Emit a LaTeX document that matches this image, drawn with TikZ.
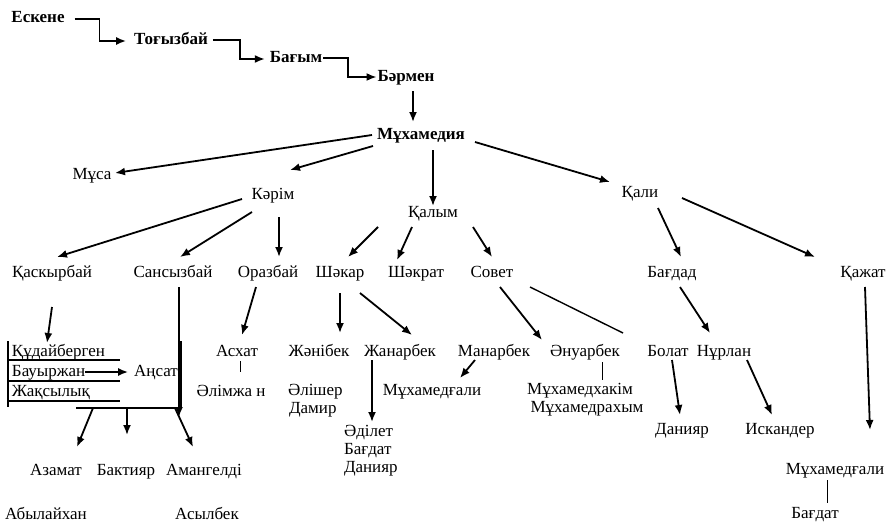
\documentclass[tikz,border=0pt]{standalone}
\usepackage{fontspec}
\setmainfont{Liberation Serif}
\usetikzlibrary{arrows.meta,calc}
\begin{document}
\begin{tikzpicture}[x=1pt,y=-1pt,
  every node/.style={inner sep=0pt, outer sep=0pt, text height=12pt, text depth=4pt, font=\fontsize{17}{17}\selectfont},
  bold/.style={font=\fontsize{17}{17}\selectfont\bfseries},
  arr/.style={line width=1.8pt, -{Latex[length=10pt,width=8pt]}},
  plain/.style={line width=1.4pt},
  thin/.style={line width=0.9pt},
  brk/.style={line width=1.1pt}]
\useasboundingbox (0,0) rectangle (889,522);
% bold chain
\node[bold] (esk) at (38,19) {Ескене};
\node[bold] (tog) at (171,40) {Тоғызбай};
\node[bold] (bag) at (296,58) {Бағым};
\node[bold] (bar) at (406,77) {Бәрмен};
\node[bold] (muh) at (421,135) {Мұхамедия};
% level 2
\node (musa) at (92,175) {Мұса};
\node (ker) at (273,195) {Кәрім};
\node (qal) at (433,213) {Қалым};
\node (qali) at (640,193) {Қали};
% level 3
\node (kask) at (52,273) {Қаскырбай};
\node (sans) at (173,273) {Сансызбай};
\node (oraz) at (268,273) {Оразбай};
\node (shak) at (340,273) {Шәкар};
\node (shakr) at (416,273) {Шәкрат};
\node (sov) at (492,273) {Совет};
\node (bagd) at (672,273) {Бағдад};
\node (qaj) at (863,273) {Қажат};
% level 4
\node[anchor=west] (kud) at (12,352) {Құдайберген};
\node[anchor=west] (baur) at (12,372) {Бауыржан};
\node[anchor=west] (zhaq) at (12,392) {Жақсылық};
\node (ansat) at (156,372) {Аңсат};
\node (asx) at (237,352) {Асхат};
\node (alim) at (231,392) {Әлімжа н};
\node (zhan) at (319,352) {Жәнібек};
\node (zhanar) at (400,352) {Жанарбек};
\node (man) at (494,352) {Манарбек};
\node (anuar) at (585,352) {Әнуарбек};
\node (bol) at (668,352) {Болат};
\node (nur) at (724,352) {Нұрлан};
% level 5
\node[anchor=west] (alish) at (288,391) {Әлішер};
\node[anchor=west] (damir) at (289,409) {Дамир};
\node (muhg1) at (432,391) {Мұхамедғали};
\node (muhx) at (580,390) {Мұхамедхакім};
\node (muhr) at (587,408) {Мұхамедрахым};
\node[anchor=west] (adil) at (344,432) {Әділет};
\node[anchor=west] (bagdat1) at (344,450) {Бағдат};
\node[anchor=west] (dan2) at (344,468) {Данияр};
\node (dan1) at (682,430) {Данияр};
\node (isk) at (780,430) {Искандер};
\node (muhg2) at (835,470) {Мұхамедғали};
\node (bagdat2) at (815,514) {Бағдат};
\node (azam) at (56,471) {Азамат};
\node (bakt) at (126,471) {Бактияр};
\node (amang) at (204,471) {Амангелді};
\node (abyl) at (46,515) {Абылайхан};
\node (asyl) at (207,515) {Асылбек};
% chain connectors
\draw[arr] ($(esk.east)+(10,0)$) -- ++(25,0) |- ($(tog.west)+(-8,1)$);
\draw[arr] ($(tog.east)+(5,0)$) -- ++(27,0) |- ($(bag.west)+(-5,1)$);
\draw[arr] ($(bag.east)+(1,0)$) -- ++(25,0) |- ($(bar.west)+(-1,0)$);
\draw[arr] ($(bar.south)+(7,6)$) -- ($(muh.north)+(-8,-5)$);
% from Мұхамедия
\draw[arr] ($(muh)+(-49,0)$) -- ($(musa)+(23,-2)$);
\draw[arr] ($(muh)+(-48,11)$) -- ($(ker)+(17,-25)$);
\draw[arr] ($(muh)+(12,15)$) -- ($(qal)+(0,-7)$);
\draw[arr] ($(muh)+(54,7)$) -- ($(qali)+(-30,-11)$);
% from Кәрім
\draw[arr] ($(ker)+(-31,4)$) -- ($(kask)+(5,-16)$);
\draw[arr] ($(ker)+(-21,17)$) -- ($(sans)+(7,-16)$);
\draw[arr] ($(ker)+(6,22)$) -- ($(oraz)+(11,-16)$);
% from Қалым
\draw[arr] ($(qal)+(-55,14)$) -- ($(shak)+(8,-16)$);
\draw[arr] ($(qal)+(-21,14)$) -- ($(shakr)+(-19,-13)$);
\draw[arr] ($(qal)+(40,14)$) -- ($(sov)+(0,-16)$);
% from Қали
\draw[arr] ($(qali)+(18,15)$) -- ($(bagd)+(9,-16)$);
\draw[arr] ($(qali)+(42,5)$) -- ($(qaj)+(-48,-16)$);
% Қаскырбай and the bracket
\draw[arr] ($(kask)+(0,34)$) -- ($(kud.north west)+(35,-1)$);
\coordinate (bTL) at (8,341);
\coordinate (bBL) at (8,407);
\coordinate (bx) at (76,408);
\coordinate (by) at (181,408);
\coordinate (bTR) at (181,341);
\draw[brk] (bTL) -- (bBL);
\draw[brk] ($(kud.south west)+(-4,0)$) -- ++(112,0);
\draw[brk] ($(baur.south west)+(-4,1)$) -- ++(112,0);
\draw[brk] ($(zhaq.south west)+(-4,1)$) -- ++(112,0);
\draw[brk] (bx) -- (by);
\draw[brk] (bTR) -- (by);
\draw[arr] (baur.east) -- ($(ansat.west)+(-6,0)$);
\draw[arr] ($(sans)+(6,14)$) -- ($(by)+(-2,9)$);
\draw[arr] ($(bx)+(17,0)$) -- ($(azam)+(21,-24)$);
\draw[arr] ($(bx)+(51,0)$) -- ($(bakt)+(1,-36)$);
\draw[arr] ($(bx)+(99,0)$) -- ($(amang)+(-11,-24)$);
% Оразбай
\draw[arr] ($(oraz)+(-12,14)$) -- ($(asx)+(5,-17)$);
\draw[thin] ($(asx)+(3,9)$) -- ($(alim)+(9,-20)$);
% Шәкар
\draw[arr] ($(shak)+(0,20)$) -- ($(zhan)+(21,-19)$);
\draw[arr] ($(shak)+(20,20)$) -- ($(zhanar)+(12,-17)$);
\draw[arr] ($(zhanar)+(-28,8)$) -- ($(adil.west)+(28,-10)$);
% Манарбек
\draw[arr] ($(man)+(-19,8)$) -- ($(muhg1)+(28,-13)$);
% Совет
\draw[arr] ($(sov)+(8,14)$) -- ($(anuar)+(-43,-12)$);
\draw[plain] ($(sov)+(38,14)$) -- ($(bol)+(-45,-19)$);
\draw[thin] ($(anuar)+(17,10)$) -- ($(muhx)+(22,-10)$);
% Бағдад
\draw[arr] ($(bagd)+(8,14)$) -- ($(nur)+(-14,-19)$);
\draw[arr] ($(bol)+(4,8)$) -- ($(dan1)+(-2,-15)$);
\draw[arr] ($(nur)+(23,8)$) -- ($(isk)+(-8,-15)$);
% Қажат
\draw[arr] ($(qaj)+(2,14)$) -- ($(muhg2)+(35,-40)$);
\draw[thin] ($(muhg2)+(-8,10)$) -- ($(bagdat2)+(12,-11)$);
\end{tikzpicture}
\end{document}
